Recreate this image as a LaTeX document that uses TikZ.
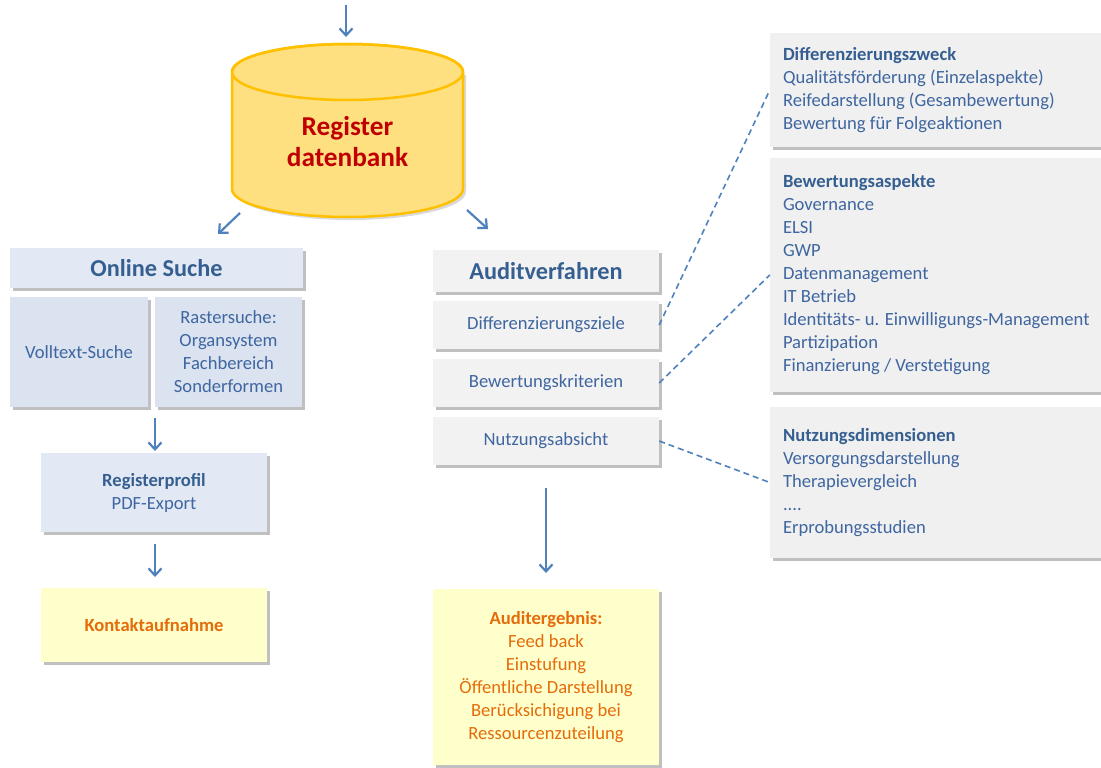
\documentclass[tikz,border=0pt]{standalone}
\usepackage{fontspec}
\setmainfont{Carlito}
\usetikzlibrary{arrows.meta,shadows}
\definecolor{txtblue}{HTML}{3F66A0}
\definecolor{headblue}{HTML}{365F91}
\definecolor{arrblue}{HTML}{4F81BD}
\definecolor{bluefillA}{HTML}{E2E9F4}
\definecolor{bluefillB}{HTML}{DAE3EF}
\definecolor{grayfill}{HTML}{F2F2F2}
\definecolor{grayfillB}{HTML}{F0F0F0}
\definecolor{yelfill}{HTML}{FFFFCC}
\definecolor{orangetxt}{HTML}{E46C0A}
\definecolor{cylfill}{HTML}{FFE080}
\definecolor{cylline}{HTML}{FFC000}
\definecolor{redtxt}{HTML}{C00000}
\tikzset{
  box/.style={draw=none, inner sep=0pt, align=center, text=txtblue,
    font=\fontsize{18.6}{23}\selectfont,
    drop shadow={shadow xshift=2.5pt, shadow yshift=-3pt, fill=black!55, opacity=0.45}},
  bluebox/.style={box, fill=bluefillA},
  blueboxB/.style={box, fill=bluefillB},
  graybox/.style={box, fill=grayfill},
  yelbox/.style={box, fill=yelfill, text=orangetxt},
  sidebox/.style={box, fill=grayfillB, align=flush left, inner xsep=13pt, text width=325pt, minimum width=351pt},
  headfont/.style={font=\fontsize{24.3}{28}\selectfont\bfseries, text=headblue},
  flow/.style={draw=arrblue, line width=2.2pt, -{Straight Barb[length=7pt,width=13pt,line width=2.2pt]}},
  dashlink/.style={draw=arrblue, line width=1.6pt, dash pattern=on 6pt off 4pt}
}
\begin{document}
\begin{tikzpicture}[x=1pt,y=-1pt]
\useasboundingbox (0,0) rectangle (1101,768);

% cylinder
\fill[black, opacity=0.15] (235,75) -- (235,192) arc (180:0:115.5 and 28) -- (466,75) -- cycle;
\path[fill=cylfill, draw=cylline, line width=2.5pt]
  (232,72) -- (232,189) arc (180:0:115.5 and 28) -- (463,72) arc (0:-180:115.5 and 28) -- cycle;
\draw[cylline, line width=2.5pt] (347.5,72) ellipse (115.5 and 28);
\node[font=\fontsize{27.3}{31}\selectfont\bfseries, text=redtxt, align=center] (db) at (347.5,142) {Register\\datenbank};

\coordinate (t0) at (346,5);   \coordinate (t1) at (346,37);
\coordinate (l0) at (240,213); \coordinate (l1) at (218,234);
\coordinate (r0) at (467,210); \coordinate (r1) at (488,229);

% left column
\node[bluebox, headfont, minimum width=293pt, minimum height=40pt] (os) at (156.5,268) {Online Suche};
\node[blueboxB, minimum width=138pt, minimum height=110pt] (vs) at (79,352) {Volltext-Suche};
\node[blueboxB, minimum width=147pt, minimum height=110pt] (rs) at (228.5,352) {Rastersuche:\\Organsystem\\Fachbereich\\Sonderformen};
\node[bluebox, minimum width=226pt, minimum height=79pt] (rp) at (154,492.5) {\textbf{\color{headblue}Registerprofil}\\PDF-Export};
\node[yelbox, minimum width=226pt, minimum height=74pt, font=\fontsize{18.6}{23}\selectfont\bfseries] (ka) at (154,625) {Kontaktaufnahme};

\coordinate (a0) at (155,418); \coordinate (a1) at (155,451);
\coordinate (b0) at (155,544); \coordinate (b1) at (155,577);

% audit column
\node[graybox, headfont, minimum width=226pt, minimum height=42pt] (av) at (546,271) {Auditverfahren};
\node[graybox, minimum width=226pt, minimum height=48pt] (dz) at (546,325) {Differenzierungsziele};
\node[graybox, minimum width=226pt, minimum height=48pt] (bk) at (546,383) {Bewertungskriterien};
\node[graybox, minimum width=226pt, minimum height=48pt] (na) at (546,441) {Nutzungsabsicht};
\node[yelbox, minimum width=226pt, minimum height=176pt] (ae) at (546,677)
  {\textbf{Auditergebnis:}\\Feed back\\Einstufung\\Öffentliche Darstellung\\Berücksichigung bei\\Ressourcenzuteilung};

\coordinate (c0) at (546,488); \coordinate (c1) at (546,573);

% side boxes
\node[sidebox, minimum height=114pt] (zw) at (945.5,90)
  {\textbf{\color{headblue}Differenzierungszweck}\\Qualitätsförderung (Einzelaspekte)\\Reifedarstellung (Gesambewertung)\\Bewertung für Folgeaktionen};
\node[sidebox, minimum height=234pt] (ba) at (945.5,275)
  {\textbf{\color{headblue}Bewertungsaspekte}\\Governance\\ELSI\\GWP\\Datenmanagement\\IT Betrieb\\Identitäts- u. Einwilligungs-Management\\Partizipation\\Finanzierung / Verstetigung};
\node[sidebox, minimum height=151pt] (nd) at (945.5,482.5)
  {\textbf{\color{headblue}Nutzungsdimensionen}\\Versorgungsdarstellung\\Therapievergleich\\....\\Erprobungsstudien};

% arrows
\draw[flow] (t0) -- (t1);
\draw[flow] (l0) -- (l1);
\draw[flow] (r0) -- (r1);
\draw[flow] (a0) -- (a1);
\draw[flow] (b0) -- (b1);
\draw[flow] (c0) -- (c1);

% dashed links
\draw[dashlink] (dz.east) -- (zw.west);
\draw[dashlink] (bk.east) -- (ba.west);
\draw[dashlink] (na.east) -- (nd.west);
\end{tikzpicture}
\end{document}
